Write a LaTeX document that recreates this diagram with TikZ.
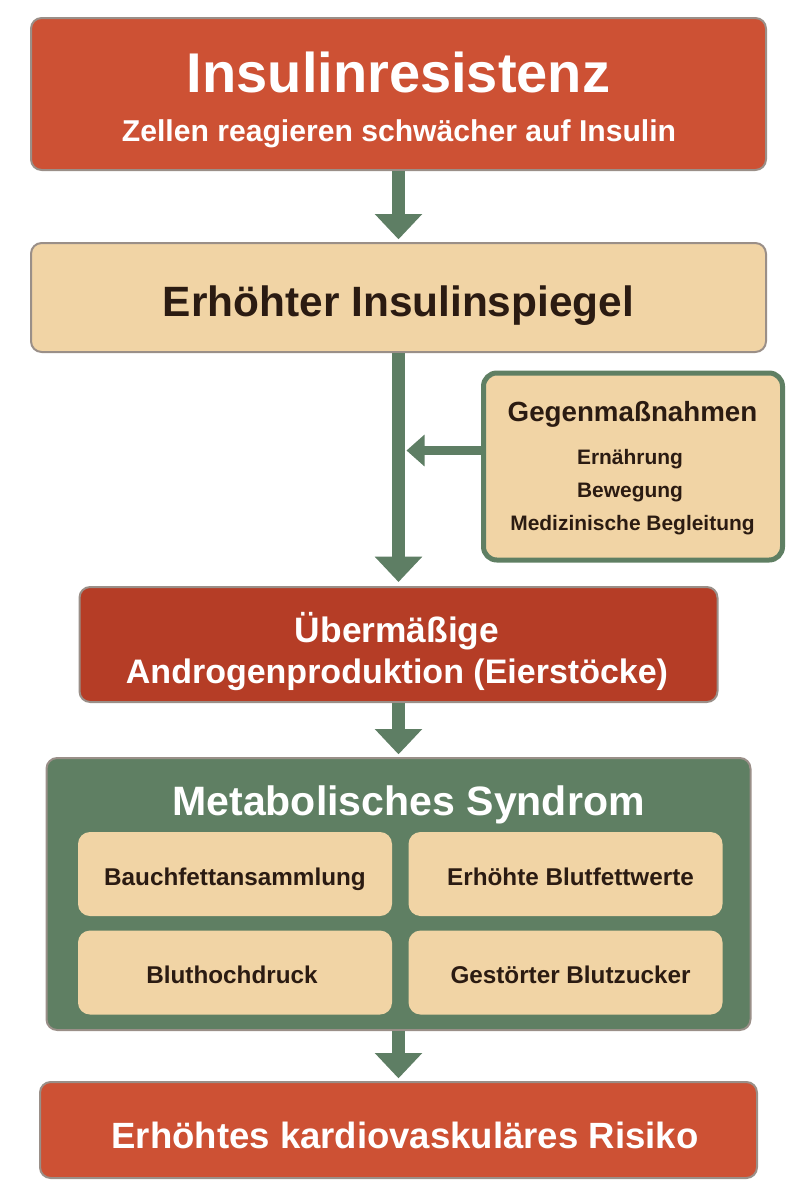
\documentclass[tikz,border=0pt]{standalone}
\usepackage{fontspec}
\setmainfont{Liberation Sans}
\usepackage{tikz}
\usetikzlibrary{arrows.meta, positioning, calc}
\definecolor{riskred}{HTML}{CD5134}
\definecolor{darkred}{HTML}{B53D26}
\definecolor{sand}{HTML}{F1D4A5}
\definecolor{sage}{HTML}{5F7F63}
\definecolor{arrowgreen}{HTML}{5E7E64}
\definecolor{ink}{HTML}{2B1B12}
\definecolor{edge}{HTML}{9A8F88}
\tikzstyle{redbox} = [rectangle, rounded corners=8pt, draw=edge, line width=1.5pt, fill=riskred]
\tikzstyle{sandbox} = [rectangle, rounded corners=8pt, draw=edge, line width=1.5pt, fill=sand]
\tikzstyle{sagebox} = [rectangle, rounded corners=8pt, draw=edge, line width=1.5pt, fill=sage]
\tikzstyle{cell} = [rectangle, rounded corners=9pt, fill=sand, minimum width=235.5pt, minimum height=63pt]
\tikzstyle{light} = [text=white, font=\bfseries, anchor=base, inner sep=0pt]
\tikzstyle{dark} = [text=ink, font=\bfseries, anchor=base, inner sep=0pt]
\tikzstyle{arrow} = [draw=arrowgreen, line width=9.5pt, -{Triangle[width=34.5pt, length=19pt]}]
\tikzstyle{sidearrow} = [draw=arrowgreen, line width=6.75pt, -{Triangle[width=23pt, length=13.5pt]}]

\begin{document}
\begin{tikzpicture}[x=0.75pt, y=-0.75pt]
\useasboundingbox (0,0) rectangle (801,1200);

% Insulinresistenz
\node (ins) [redbox, minimum width=551.25pt, minimum height=114pt] at (398.5,94) {};
\node (ins-title) [light] at (398.5,92) {\fontsize{42}{50}\selectfont Insulinresistenz};
\node (ins-sub) [light] at (399,141) {\fontsize{22.6}{27}\selectfont Zellen reagieren schwächer auf Insulin};

% Insulinspiegel
\node (spiegel) [sandbox, minimum width=551.25pt, minimum height=81.75pt] at (398.5,297.5) {};
\node (spiegel-text) [dark] at (398.5,316) {\fontsize{31.8}{38}\selectfont Erhöhter Insulinspiegel};

% Gegenmassnahmen
\node (gegen) [sandbox, draw=sage, line width=3.75pt, rounded corners=10pt, minimum width=224.25pt, minimum height=140.25pt] at (633,466.5) {};
\node (gegen-title) [dark] at (632.5,421) {\fontsize{20.8}{25}\selectfont Gegenmaßnahmen};
\node (gegen-a) [dark] at (630,464) {\fontsize{15.7}{19}\selectfont Ernährung};
\node (gegen-b) [dark] at (630,497) {\fontsize{15.7}{19}\selectfont Bewegung};
\node (gegen-c) [dark] at (632.5,530) {\fontsize{15.7}{19}\selectfont Medizinische Begleitung};
\coordinate (merge) at (406.5,450.5);

% Androgene
\node (andro) [redbox, fill=darkred, minimum width=478.5pt, minimum height=86.25pt] at (398.5,644.5) {};
\node (andro-a) [light] at (397,642) {\fontsize{26.5}{32}\selectfont Übermäßige};
\node (andro-b) [light] at (397,683) {\fontsize{25.5}{31}\selectfont Androgenproduktion (Eierstöcke)};

% Metabolisches Syndrom
\node (meta) [sagebox, minimum width=528pt, minimum height=204pt] at (398.5,894) {};
\node (meta-title) [light] at (408.5,815) {\fontsize{30.8}{37}\selectfont Metabolisches Syndrom};
\node (fat) [cell] at (235,874) {};
\node (lipid) [cell, right=12pt of fat] {};
\node (bp) [cell, below=10.5pt of fat] {};
\node (sugar) [cell, below=10.5pt of lipid] {};
\node (fat-text) [dark] at ($(fat)+(0,11)$) {\fontsize{18.2}{22}\selectfont Bauchfettansammlung};
\node (lipid-text) [dark] at ($(lipid)+(5,11)$) {\fontsize{18.2}{22}\selectfont Erhöhte Blutfettwerte};
\node (bp-text) [dark] at ($(bp)+(-3,11)$) {\fontsize{18.2}{22}\selectfont Bluthochdruck};
\node (sugar-text) [dark] at ($(sugar)+(5,11)$) {\fontsize{18.2}{22}\selectfont Gestörter Blutzucker};

% Risiko
\node (risk) [redbox, minimum width=537.75pt, minimum height=72pt] at (398.5,1130) {};
\node (risk-text) [light] at (405,1148) {\fontsize{27.4}{33}\selectfont Erhöhtes kardiovaskuläres Risiko};

% Arrows
\draw [arrow, shorten >=2pt] (ins) -- (spiegel);
\draw [arrow, shorten >=3pt] (spiegel) -- (andro);
\draw [sidearrow] (gegen.west |- merge) -- (merge);
\draw [arrow, shorten >=2pt] (andro) -- (meta);
\draw [arrow, shorten >=2pt] (meta) -- (risk);

\end{tikzpicture}
\end{document}
